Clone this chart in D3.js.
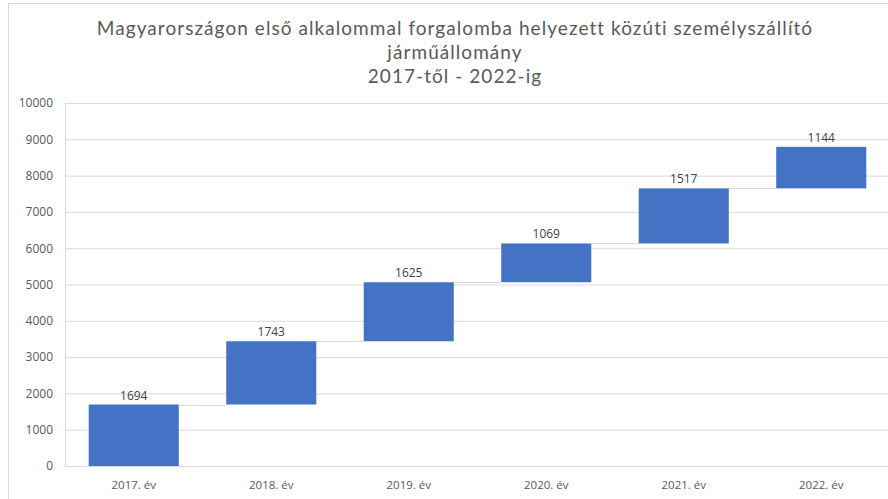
<!DOCTYPE html>
<html>
<head>
<meta charset="utf-8">
<script src="https://cdn.jsdelivr.net/npm/d3@7"></script>
<style>
  body { margin: 0; background: #fff; }
  text { font-family: "Open Sans", "Liberation Sans", sans-serif; }
  .title text { font-family: Lato, "Open Sans", sans-serif; }
</style>
</head>
<body>
<div id="chart"></div>
<script>
const categories = ['2017. év', '2018. év', '2019. év', '2020. év', '2021. év', '2022. év'];
const increments = [1694, 1743, 1625, 1069, 1517, 1144];
const yTicks = [0, 1000, 2000, 3000, 4000, 5000, 6000, 7000, 8000, 9000, 10000];
const titleLines = [
  'Magyarországon első alkalommal forgalomba helyezett közúti személyszállító',
  'járműállomány',
  '2017-től - 2022-ig'
];

const W = 888, H = 499;
const margin = { top: 103, right: -2, bottom: 33, left: 65 };
const width = W - margin.left - margin.right;
const height = H - margin.top - margin.bottom;

const svg = d3.select('#chart').append('svg')
  .attr('width', W)
  .attr('height', H)
  .style('display', 'block');

// outer chart border (clipped on the right like the original)
svg.append('rect')
  .attr('x', 8.5).attr('y', 3.5)
  .attr('width', W + 20).attr('height', H + 20)
  .attr('fill', 'none')
  .attr('stroke', '#d9d9d9');

// title
const title = svg.append('g').attr('class', 'title');
titleLines.forEach((line, i) => {
  title.append('text')
    .attr('x', 455)
    .attr('y', 35 + i * 24)
    .attr('text-anchor', 'middle')
    .attr('fill', '#595959')
    .style('font-size', '19px')
    .text(line);
});
// spread letters so the first line gets the width it has in the picture
const first = title.select('text').node();
const len = first.getComputedTextLength();
if (len > 0 && len < 716) {
  const ls = (716 - len) / titleLines[0].length;
  title.selectAll('text').style('letter-spacing', ls + 'px');
}

const g = svg.append('g').attr('transform', `translate(${margin.left},${margin.top})`);

// running totals
let run = 0;
const steps = increments.map((v, i) => {
  const start = run;
  run += v;
  return { label: categories[i], value: v, start, end: run };
});

const x = d3.scaleBand()
  .domain(categories)
  .range([0, width])
  .paddingInner(0.345)
  .paddingOuter(0.1725);

const y = d3.scaleLinear()
  .domain([0, 10000])
  .range([height, 0]);

// gridlines
g.append('g')
  .attr('class', 'grid')
  .call(d3.axisLeft(y).tickValues(yTicks).tickSize(-width).tickFormat(() => ''))
  .call(s => s.select('.domain').remove())
  .call(s => s.selectAll('line').attr('stroke', '#d9d9d9').attr('stroke-width', 1));

// left axis line
g.append('line')
  .attr('x1', 0.5).attr('x2', 0.5)
  .attr('y1', 0).attr('y2', height)
  .attr('stroke', '#d9d9d9');

// y axis labels
g.append('g')
  .attr('class', 'axis y-axis')
  .call(d3.axisLeft(y).tickValues(yTicks).tickFormat(d3.format('d')).tickSize(0).tickPadding(12))
  .call(s => s.select('.domain').remove())
  .call(s => s.selectAll('text')
    .attr('fill', '#595959')
    .style('font-size', '12px'));

// x axis labels
g.append('g')
  .attr('class', 'axis x-axis')
  .attr('transform', `translate(0,${height})`)
  .call(d3.axisBottom(x).tickSize(0).tickPadding(15))
  .call(s => s.select('.domain').remove())
  .call(s => s.selectAll('text')
    .attr('fill', '#595959')
    .style('font-size', '11.5px'));

// connectors
g.append('g')
  .attr('class', 'connectors')
  .selectAll('line')
  .data(steps.slice(0, -1))
  .join('line')
  .attr('x1', d => x(d.label) + x.bandwidth())
  .attr('x2', (d, i) => x(steps[i + 1].label))
  .attr('y1', d => Math.round(y(d.end)) + 0.5)
  .attr('y2', d => Math.round(y(d.end)) + 0.5)
  .attr('stroke', '#d9d9d9')
  .attr('stroke-width', 1);

// bars
g.append('g')
  .attr('class', 'bars')
  .selectAll('rect')
  .data(steps)
  .join('rect')
  .attr('x', d => x(d.label))
  .attr('y', d => y(d.end))
  .attr('width', x.bandwidth())
  .attr('height', d => y(d.start) - y(d.end))
  .attr('fill', '#4472c4');

// value labels
g.append('g')
  .attr('class', 'labels')
  .selectAll('text')
  .data(steps)
  .join('text')
  .attr('x', d => x(d.label) + x.bandwidth() / 2)
  .attr('y', d => y(d.end) - 5)
  .attr('text-anchor', 'middle')
  .attr('fill', '#404040')
  .style('font-size', '12px')
  .text(d => d.value);
</script>
</body>
</html>
